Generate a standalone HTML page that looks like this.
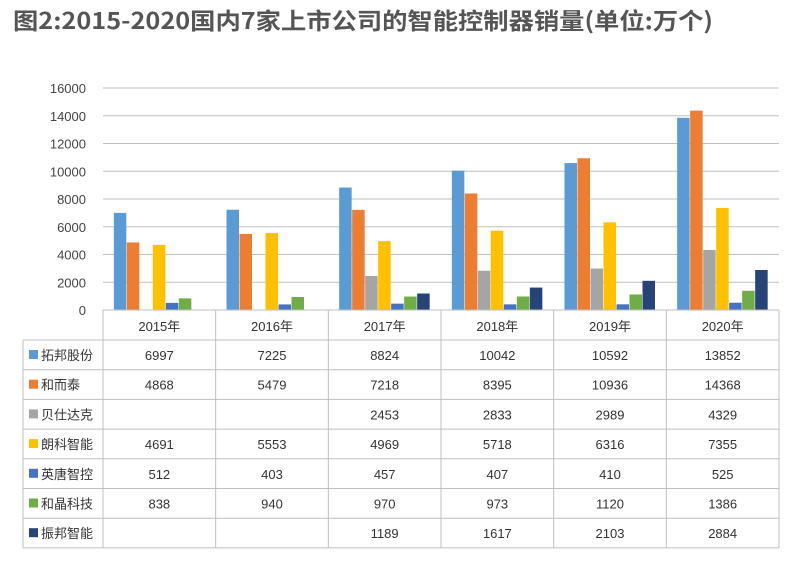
<!DOCTYPE html>
<html><head><meta charset="utf-8"><style>
body{margin:0;background:#fff;width:789px;height:557px;overflow:hidden;font-family:"Liberation Sans","Noto Sans CJK SC",sans-serif}
</style></head><body>
<svg id="s" width="789" height="557" xmlns="http://www.w3.org/2000/svg" font-family="Liberation Sans, Noto Sans CJK SC, sans-serif">
<text x="13" y="29" font-size="23" font-weight="bold" fill="#555" textLength="700" lengthAdjust="spacingAndGlyphs" font-family="Noto Sans CJK SC, sans-serif">图2:2015-2020国内7家上市公司的智能控制器销量(单位:万个)</text>
</svg>
<script>
const s=document.getElementById('s');const NS='http://www.w3.org/2000/svg';
function el(t,a,txt){const e=document.createElementNS(NS,t);for(const k in a)e.setAttribute(k,a[k]);if(txt!==undefined)e.textContent=txt;s.appendChild(e);return e;}
const x0=103,x1=779,y0=310,sc=222/16000,cw=(x1-x0)/6;
for(let v=2000;v<=16000;v+=2000){const y=y0-v*sc;el('line',{x1:x0,x2:x1,y1:y,y2:y,stroke:'#bfbfbf','stroke-width':1});}
for(let v=0;v<=16000;v+=2000){el('text',{x:86,y:y0-v*sc+5,'font-size':13,'text-anchor':'end',fill:'#444'},v);}
const names=['拓邦股份','和而泰','贝仕达克','朗科智能','英唐智控','和晶科技','振邦智能'];
const cols=['#5b9bd5','#ed7d31','#a5a5a5','#ffc000','#4472c4','#70ad47','#264478'];
const d=[[6997,7225,8824,10042,10592,13852],[4868,5479,7218,8395,10936,14368],[null,null,2453,2833,2989,4329],[4691,5553,4969,5718,6316,7355],[512,403,457,407,410,525],[838,940,970,973,1120,1386],[null,null,1189,1617,2103,2884]];
const bw=13;
for(let g=0;g<6;g++){const gs=x0+g*cw+(cw-7*bw)/2;
for(let i=0;i<7;i++){const v=d[i][g];if(v==null)continue;const h=v*sc;el('rect',{x:gs+i*bw,y:y0-h,width:bw-0.5,height:h,fill:cols[i]});}}
const lc='#bfbfbf';
el('line',{x1:x0,x2:x1,y1:y0,y2:y0,stroke:lc});
const rh=29.7,ty=340;
for(let r=0;r<=7;r++){const y=ty+r*rh;el('line',{x1:23,x2:x1,y1:y,y2:y,stroke:lc});}
el('line',{x1:23,x2:23,y1:ty,y2:ty+7*rh,stroke:lc});
for(let c=0;c<=6;c++){const x=x0+c*cw;el('line',{x1:x,x2:x,y1:y0,y2:ty+7*rh,stroke:lc});}
for(let c=0;c<6;c++){el('text',{x:x0+c*cw+cw/2,y:331,'font-size':13,'text-anchor':'middle',fill:'#333'},(2015+c)+'年');}
for(let r=0;r<7;r++){const y=ty+r*rh;
el('rect',{x:29,y:y+10,width:9,height:9,fill:cols[r]});
el('text',{x:41,y:y+20,'font-size':13,fill:'#333'},names[r]);
for(let c=0;c<6;c++){const v=d[r][c];if(v==null)continue;el('text',{x:x0+c*cw+cw/2,y:y+20,'font-size':13,'text-anchor':'middle',fill:'#333'},v);}}
</script>
</body></html>
